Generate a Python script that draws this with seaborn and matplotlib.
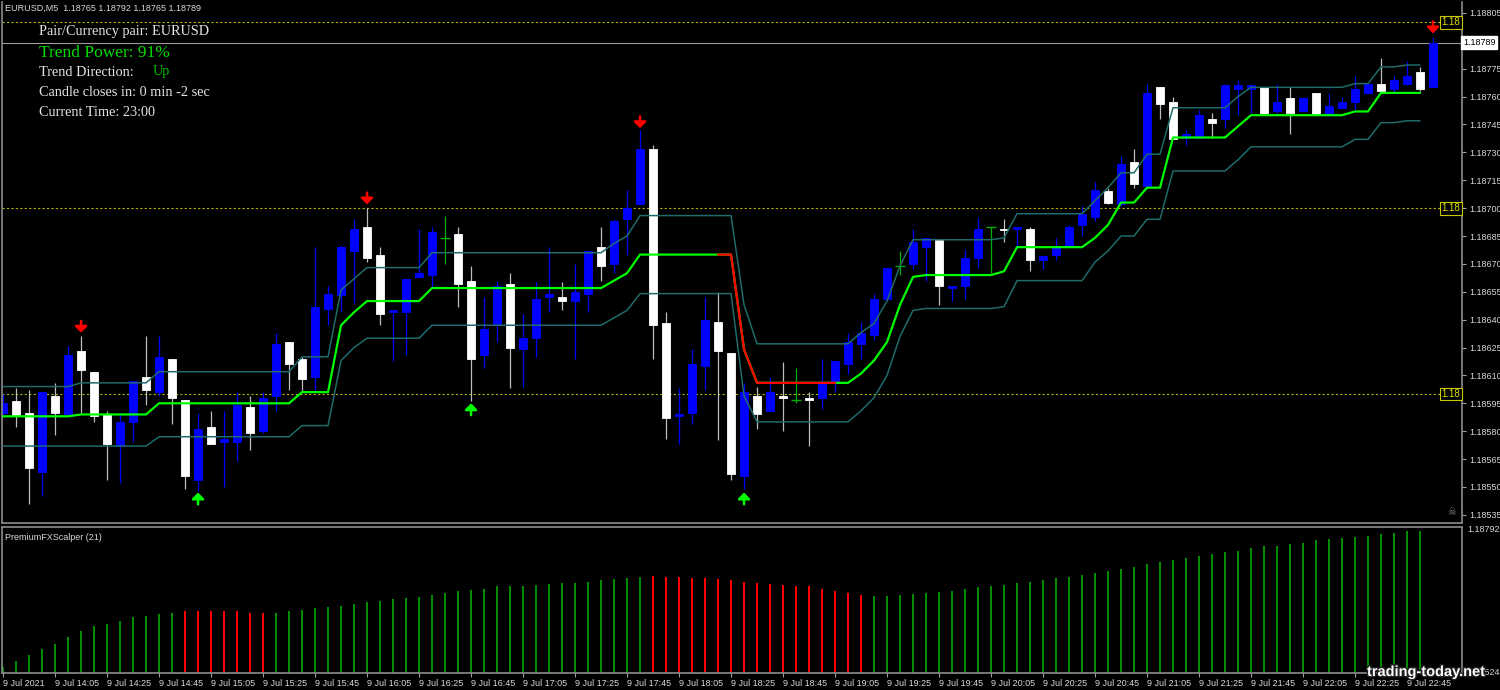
import numpy as np
import pandas as pd
import seaborn as sns
import matplotlib.pyplot as plt
import matplotlib.patheffects as pe
from matplotlib.transforms import blended_transform_factory

# EURUSD M5, 9 Jul 2021, candles 13:45 .. 22:55
opens = [1.18590, 1.18596, 1.18590, 1.18558, 1.18599, 1.18589, 1.18623, 1.18612, 1.18589, 1.18572,
         1.18585, 1.18609, 1.18601, 1.18619, 1.18597, 1.18554, 1.18582, 1.18574, 1.18574, 1.18593,
         1.18580, 1.18599, 1.18628, 1.18619, 1.18609, 1.18646, 1.18653, 1.18677, 1.18690, 1.18675,
         1.18644, 1.18644, 1.18663, 1.18664, 1.18684, 1.18686, 1.18661, 1.18621, 1.18637, 1.18659,
         1.18624, 1.18630, 1.18652, 1.18652, 1.18650, 1.18654, 1.18679, 1.18670, 1.18694, 1.18702,
         1.18732, 1.18638, 1.18588, 1.18590, 1.18615, 1.18639, 1.18622, 1.18556, 1.18599, 1.18591,
         1.18599, 1.18597, 1.18598, 1.18598, 1.18607, 1.18616, 1.18627, 1.18632, 1.18651, 1.18669,
         1.18670, 1.18679, 1.18683, 1.18657, 1.18658, 1.18673, 1.18690, 1.18689, 1.18689, 1.18689,
         1.18672, 1.18675, 1.18679, 1.18691, 1.18695, 1.18709, 1.18702, 1.18725, 1.18712, 1.18765,
         1.18757, 1.18738, 1.18738, 1.18748, 1.18748, 1.18764, 1.18764, 1.18765, 1.18752, 1.18759,
         1.18752, 1.18762, 1.18750, 1.18754, 1.18757, 1.18762, 1.18767, 1.18764, 1.18767, 1.18773,
         1.18765]
highs = [1.18600, 1.18603, 1.18602, 1.18601, 1.18606, 1.18626, 1.18631, 1.18612, 1.18591, 1.18590,
         1.18607, 1.18631, 1.18631, 1.18619, 1.18597, 1.18590, 1.18591, 1.18591, 1.18601, 1.18599,
         1.18601, 1.18633, 1.18628, 1.18620, 1.18679, 1.18658, 1.18680, 1.18694, 1.18700, 1.18679,
         1.18645, 1.18662, 1.18689, 1.18690, 1.18696, 1.18690, 1.18669, 1.18652, 1.18661, 1.18665,
         1.18643, 1.18660, 1.18679, 1.18660, 1.18670, 1.18677, 1.18690, 1.18694, 1.18710, 1.18742,
         1.18734, 1.18644, 1.18603, 1.18624, 1.18652, 1.18655, 1.18622, 1.18606, 1.18604, 1.18609,
         1.18617, 1.18614, 1.18601, 1.18619, 1.18618, 1.18633, 1.18639, 1.18654, 1.18668, 1.18677,
         1.18689, 1.18684, 1.18683, 1.18658, 1.18678, 1.18695, 1.18690, 1.18694, 1.18690, 1.18690,
         1.18674, 1.18684, 1.18691, 1.18701, 1.18714, 1.18711, 1.18728, 1.18732, 1.18767, 1.18765,
         1.18760, 1.18742, 1.18753, 1.18751, 1.18767, 1.18769, 1.18767, 1.18765, 1.18767, 1.18765,
         1.18759, 1.18762, 1.18762, 1.18760, 1.18771, 1.18767, 1.18781, 1.18771, 1.18779, 1.18776,
         1.18792]
lows = [1.18588, 1.18582, 1.18541, 1.18545, 1.18578, 1.18589, 1.18590, 1.18585, 1.18554, 1.18552,
        1.18574, 1.18594, 1.18599, 1.18584, 1.18549, 1.18548, 1.18573, 1.18550, 1.18564, 1.18570,
        1.18579, 1.18591, 1.18602, 1.18601, 1.18602, 1.18637, 1.18644, 1.18649, 1.18671, 1.18637,
        1.18618, 1.18621, 1.18663, 1.18657, 1.18670, 1.18647, 1.18596, 1.18614, 1.18628, 1.18603,
        1.18604, 1.18620, 1.18644, 1.18645, 1.18619, 1.18644, 1.18661, 1.18665, 1.18675, 1.18702,
        1.18619, 1.18576, 1.18573, 1.18584, 1.18602, 1.18575, 1.18554, 1.18549, 1.18581, 1.18591,
        1.18580, 1.18595, 1.18572, 1.18592, 1.18601, 1.18611, 1.18619, 1.18629, 1.18651, 1.18664,
        1.18667, 1.18661, 1.18648, 1.18650, 1.18651, 1.18668, 1.18665, 1.18682, 1.18679, 1.18666,
        1.18667, 1.18672, 1.18679, 1.18685, 1.18693, 1.18702, 1.18701, 1.18711, 1.18712, 1.18748,
        1.18737, 1.18734, 1.18738, 1.18738, 1.18743, 1.18750, 1.18751, 1.18750, 1.18751, 1.18740,
        1.18752, 1.18750, 1.18750, 1.18754, 1.18753, 1.18762, 1.18762, 1.18762, 1.18766, 1.18763,
        1.18765]
closes = [1.18595, 1.18588, 1.18560, 1.18601, 1.18590, 1.18621, 1.18613, 1.18588, 1.18573, 1.18585,
          1.18607, 1.18602, 1.18620, 1.18598, 1.18556, 1.18581, 1.18573, 1.18576, 1.18594, 1.18579,
          1.18598, 1.18627, 1.18616, 1.18608, 1.18647, 1.18654, 1.18679, 1.18689, 1.18673, 1.18643,
          1.18645, 1.18662, 1.18665, 1.18687, 1.18684, 1.18659, 1.18619, 1.18635, 1.18658, 1.18625,
          1.18630, 1.18651, 1.18654, 1.18650, 1.18655, 1.18677, 1.18669, 1.18693, 1.18700, 1.18732,
          1.18637, 1.18587, 1.18589, 1.18616, 1.18640, 1.18623, 1.18557, 1.18601, 1.18589, 1.18601,
          1.18598, 1.18597, 1.18597, 1.18606, 1.18618, 1.18628, 1.18633, 1.18651, 1.18668, 1.18669,
          1.18682, 1.18684, 1.18658, 1.18658, 1.18673, 1.18689, 1.18690, 1.18688, 1.18690, 1.18672,
          1.18674, 1.18679, 1.18690, 1.18697, 1.18710, 1.18703, 1.18724, 1.18713, 1.18762, 1.18756,
          1.18737, 1.18740, 1.18750, 1.18746, 1.18766, 1.18766, 1.18766, 1.18751, 1.18757, 1.18751,
          1.18759, 1.18750, 1.18755, 1.18757, 1.18764, 1.18767, 1.18763, 1.18769, 1.18771, 1.18764,
          1.18789]

# trend line and its channel (candles 0..109)
trend = ([1.18588] * 6 + [1.18589] * 6 + [1.18595] * 11 + [1.18601] * 3 + [1.18637, 1.18644]
         + [1.18650] * 5 + [1.18657] * 14 + [1.18661, 1.18665] + [1.18675] * 8 + [1.18624]
         + [1.18606] * 8 + [1.18611, 1.18618, 1.18628, 1.18648, 1.18663] + [1.18664] * 6 + [1.18666]
         + [1.18679] * 6 + [1.18684, 1.18691] + [1.18703] * 2 + [1.18711] * 2 + [1.18738] * 5
         + [1.18744] + [1.18750] * 8 + [1.18752] * 2 + [1.18762] * 4)
upper = ([1.18604] * 6 + [1.18606] * 6 + [1.18612] * 11 + [1.18620] * 3 + [1.18656, 1.18662]
         + [1.18668] * 5 + [1.18676] * 14 + [1.18681, 1.18685] + [1.18696] * 8 + [1.18648]
         + [1.18627] * 8 + [1.18633, 1.18638, 1.18650, 1.18669, 1.18683] + [1.18683] * 6 + [1.18684]
         + [1.18697] * 6 + [1.18704, 1.18711] + [1.18719] * 2 + [1.18729] * 2 + [1.18754] * 5
         + [1.18760] + [1.18765] * 8 + [1.18767] * 2 + [1.18776] * 2 + [1.18777] * 2)
lower = ([1.18572] * 12 + [1.18577] * 11 + [1.18583] * 3 + [1.18618, 1.18625]
         + [1.18630] * 5 + [1.18637] * 14 + [1.18641, 1.18645] + [1.18654] * 8 + [1.18599]
         + [1.18585] * 8 + [1.18591, 1.18598, 1.18610, 1.18631, 1.18645] + [1.18646] * 6 + [1.18647]
         + [1.18661] * 6 + [1.18671, 1.18677] + [1.18685] * 2 + [1.18694] * 2 + [1.18720] * 5
         + [1.18726] + [1.18733] * 8 + [1.18737] * 2 + [1.18746] * 2 + [1.18747] * 2)
red_from, red_to = 55, 64

# signal arrows: price at the arrow tip
sell_idx = [6, 28, 49, 110]
sell_tip = [1.18633, 1.18702, 1.18743, 1.18794]
buy_idx = [15, 36, 57]
buy_tip = [1.18547, 1.18595, 1.18547]

levels = [1.18800, 1.18700, 1.18600]
last_price = 1.18789
price_ticks = [1.18535, 1.18550, 1.18565, 1.18580, 1.18595, 1.18610, 1.18625, 1.18640, 1.18655,
               1.18670, 1.18685, 1.18700, 1.18715, 1.18730, 1.18745, 1.18760, 1.18775, 1.18790, 1.18805]

# PremiumFXScalper (21)
scalper = [1.18534, 1.18545, 1.18555, 1.18566, 1.18576, 1.18589, 1.18601, 1.18609, 1.18614, 1.18620,
           1.18626, 1.18628, 1.18632, 1.18634, 1.18637, 1.18637, 1.18637, 1.18637, 1.18637, 1.18635,
           1.18635, 1.18635, 1.18637, 1.18639, 1.18643, 1.18645, 1.18647, 1.18651, 1.18655, 1.18657,
           1.18660, 1.18662, 1.18664, 1.18668, 1.18672, 1.18676, 1.18678, 1.18680, 1.18684, 1.18684,
           1.18685, 1.18687, 1.18689, 1.18691, 1.18691, 1.18693, 1.18695, 1.18697, 1.18699, 1.18701,
           1.18703, 1.18701, 1.18701, 1.18699, 1.18699, 1.18697, 1.18695, 1.18693, 1.18691, 1.18689,
           1.18687, 1.18685, 1.18684, 1.18680, 1.18676, 1.18672, 1.18668, 1.18666, 1.18666, 1.18668,
           1.18670, 1.18672, 1.18674, 1.18676, 1.18680, 1.18682, 1.18685, 1.18687, 1.18691, 1.18693,
           1.18695, 1.18699, 1.18701, 1.18705, 1.18709, 1.18712, 1.18716, 1.18720, 1.18726, 1.18730,
           1.18734, 1.18737, 1.18741, 1.18745, 1.18749, 1.18751, 1.18755, 1.18759, 1.18760, 1.18764,
           1.18766, 1.18770, 1.18772, 1.18774, 1.18776, 1.18778, 1.18782, 1.18784, 1.18787, 1.18787]
scalper_dir = ['up'] * 14 + ['down'] * 7 + ['up'] * 29 + ['down'] * 17 + ['up'] * 43
scalper_ticks = [1.18792, 1.18524]

time_ticks = list(range(0, 109, 4))
time_labels = ['9 Jul 2021', '9 Jul 14:05', '9 Jul 14:25', '9 Jul 14:45', '9 Jul 15:05', '9 Jul 15:25',
               '9 Jul 15:45', '9 Jul 16:05', '9 Jul 16:25', '9 Jul 16:45', '9 Jul 17:05', '9 Jul 17:25',
               '9 Jul 17:45', '9 Jul 18:05', '9 Jul 18:25', '9 Jul 18:45', '9 Jul 19:05', '9 Jul 19:25',
               '9 Jul 19:45', '9 Jul 20:05', '9 Jul 20:25', '9 Jul 20:45', '9 Jul 21:05', '9 Jul 21:25',
               '9 Jul 21:45', '9 Jul 22:05', '9 Jul 22:25', '9 Jul 22:45']

sns.set_theme(style='dark', rc={'axes.facecolor': 'black', 'figure.facecolor': 'black',
                                'axes.edgecolor': '#8c8c8c', 'axes.grid': False})
plt.rcParams['font.family'] = ['Liberation Sans', 'DejaVu Sans']

grey = '#8c8c8c'
lab = '#d8d8d8'
W, H = 1500, 690

fig = plt.figure(figsize=(15, 6.9), dpi=100)
ax = fig.add_axes([2 / W, 1 - 523 / H, 1460 / W, 521 / H])
ax2 = fig.add_axes([2 / W, 1 - 673 / H, 1460 / W, 146 / H])
xlim = (-0.08, 112.23)

# candles
df = pd.DataFrame({'o': opens, 'h': highs, 'l': lows, 'c': closes})
df['i'] = np.arange(len(df))
up = df[df.c > df.o]
dn = df[df.c < df.o]
dj = df[df.c == df.o]
ax.vlines(up.i, up.l, up.h, color='#0000ff', lw=0.9, zorder=2)
ax.vlines(dn.i, dn.l, dn.h, color='#bdbdbd', lw=0.9, zorder=2)
ax.vlines(dj.i, dj.l, dj.h, color='#00b000', lw=0.9, zorder=2)
ax.hlines(dj.o, dj.i - 0.35, dj.i + 0.35, color='#00b000', lw=1, zorder=2)
ax.bar(up.i, up.c - up.o, bottom=up.o, width=0.66, color='#0000ff', edgecolor='#0000ff', lw=0.6, zorder=2.5)
ax.bar(dn.i, dn.o - dn.c, bottom=dn.c, width=0.66, color='white', edgecolor='white', lw=0.6, zorder=2.5)

# channel and trend line
idx = np.arange(len(trend))
sns.lineplot(x=idx, y=upper, color='#1f6b6b', lw=1.1, ax=ax, zorder=3)
sns.lineplot(x=idx, y=lower, color='#1f6b6b', lw=1.1, ax=ax, zorder=3)
sns.lineplot(x=idx, y=trend, color='#00ff00', lw=1.6, ax=ax, zorder=4)
sns.lineplot(x=idx[red_from:red_to + 1], y=trend[red_from:red_to + 1], color='#ff0000', lw=1.6, ax=ax, zorder=4.5)

arrow_style = dict(arrowstyle='-|>,head_width=0.3,head_length=0.3', lw=1.8, shrinkA=0, shrinkB=0)
for i, p in zip(sell_idx, sell_tip):
    ax.annotate('', xy=(i, p), xytext=(0, 8.5), textcoords='offset points',
                arrowprops=dict(color='#ff0000', **arrow_style), zorder=6)
for i, p in zip(buy_idx, buy_tip):
    ax.annotate('', xy=(i, p), xytext=(0, -8.5), textcoords='offset points',
                arrowprops=dict(color='#00ff00', **arrow_style), zorder=6)

trans = blended_transform_factory(ax.transAxes, ax.transData)
for lv in levels:
    ax.axhline(lv, color='#b4b400', lw=0.8, ls=(0, (2, 2)), zorder=1)
    ax.text(0.999, lv, '1.18', transform=trans, ha='right', va='center', color='#e0e000', fontsize=7,
            bbox=dict(boxstyle='square,pad=0.15', fc='black', ec='#c8c800', lw=0.8), zorder=7)
ax.axhline(last_price, color='#9a9a9a', lw=0.8, zorder=1)
ax.text(1.0008, last_price, f'{last_price:.5f}', transform=trans, ha='left', va='center', color='black',
        fontsize=6.5, bbox=dict(boxstyle='square,pad=0.2', fc='white', ec='white'), zorder=8, clip_on=False)

ax.set_xlim(*xlim)
ax.set_ylim(1.185306, 1.188109)
ax.set_yticks(price_ticks)
# the 1.18790 label sits under the last-price box
ax.set_yticklabels(['' if t == 1.18790 else f'{t:.5f}' for t in price_ticks])
ax.yaxis.tick_right()
ax.tick_params(axis='y', right=True, left=False, length=3, width=0.8, color='#a0a0a0',
               labelsize=6.5, labelcolor=lab, pad=2)
ax.set_xticks([])
ax.set_xlabel('')
ax.set_ylabel('')
for s in ['left', 'right', 'bottom']:
    ax.spines[s].set_color(grey)
    ax.spines[s].set_linewidth(1.2)
ax.spines['top'].set_visible(False)

# lower panel histogram
hist_df = pd.DataFrame({'i': np.arange(len(scalper)), 'v': scalper, 'dir': scalper_dir})
sns.barplot(data=hist_df, x='i', y='v', hue='dir', palette={'up': '#008c00', 'down': '#ff0000'},
            native_scale=True, width=0.18, dodge=False, legend=False, errorbar=None,
            saturation=1, linewidth=0, ax=ax2)
ax2.set_xlim(*xlim)
ax2.set_ylim(1.18522, 1.18795)
ax2.set_yticks(scalper_ticks)
ax2.set_yticklabels([f'{t:.5f}' for t in scalper_ticks])
ax2.yaxis.tick_right()
ax2.tick_params(axis='y', right=True, left=False, length=0, labelsize=6.5, labelcolor=lab, pad=4)
ax2.set_xticks(time_ticks)
ax2.set_xticklabels(time_labels)
ax2.tick_params(axis='x', bottom=True, length=3, width=0.8, color='#a0a0a0', labelsize=6.5,
                labelcolor=lab, pad=1)
for t in ax2.get_xticklabels():
    t.set_ha('left')
ax2.set_xlabel('')
ax2.set_ylabel('')
for s in ['left', 'right', 'bottom', 'top']:
    ax2.spines[s].set_color(grey)
    ax2.spines[s].set_linewidth(1.2)
ax2.text(0.002, 0.96, 'PremiumFXScalper (21)', transform=ax2.transAxes, ha='left', va='top',
         color=lab, fontsize=6.5)

# header and info block
fig.text(5 / W, 1 - 8 / H, 'EURUSD,M5  1.18765 1.18792 1.18765 1.18789', color=lab, fontsize=6.5, va='center')
serif = ['Liberation Serif', 'DejaVu Serif']
white = '#e4e4e4'
fig.text(39 / W, 1 - 31 / H, 'Pair/Currency pair: EURUSD', color=white, fontsize=10.3, family=serif, va='center')
fig.text(39 / W, 1 - 53 / H, 'Trend Power: 91%', color='#00dd00', fontsize=12.5, family=serif, va='center')
fig.text(39 / W, 1 - 72 / H, 'Trend Direction:', color=white, fontsize=10.3, family=serif, va='center')
fig.text(153 / W, 1 - 72 / H, 'Up', color='#00bb00', fontsize=10.3, family=serif, va='center')
fig.text(39 / W, 1 - 92 / H, 'Candle closes in: 0 min -2 sec', color=white, fontsize=10.3, family=serif, va='center')
fig.text(39 / W, 1 - 112 / H, 'Current Time: 23:00', color=white, fontsize=10.3, family=serif, va='center')

fig.text(1452 / W, 1 - 512 / H, '☠', color='#7a7a7a', fontsize=7, ha='center', va='center',
         family=['DejaVu Sans'])
fig.text(1367 / W, 1 - 672 / H, 'trading-today.net', color='white', fontsize=10.5, fontweight='bold',
         va='center', path_effects=[pe.withStroke(linewidth=2, foreground='#202020')])

fig.savefig('out.png', dpi=100, facecolor='black')
